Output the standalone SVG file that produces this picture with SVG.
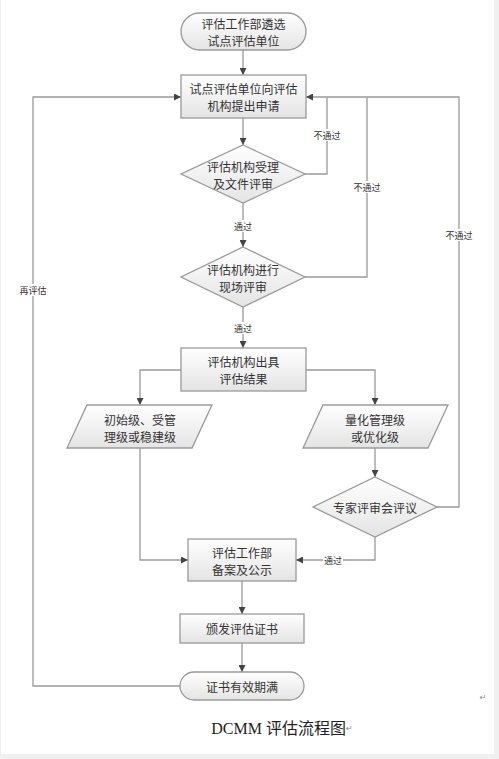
<svg xmlns="http://www.w3.org/2000/svg" width="499" height="759" viewBox="0 0 499 759">
<defs>
<linearGradient id="g" x1="0" y1="0" x2="0" y2="1">
<stop offset="0" stop-color="#ffffff"/>
<stop offset="1" stop-color="#e4e4e4"/>
</linearGradient>
<marker id="a" viewBox="0 0 10 10" refX="10" refY="5" markerWidth="7" markerHeight="7" orient="auto" markerUnits="userSpaceOnUse">
<path d="M0,0 L10,5 L0,10 z" fill="#444"/>
</marker>
<style>
.n{fill:url(#g);stroke:#9a9a9a;stroke-width:1.3}
.t{font-family:"Noto Sans CJK SC","Noto Sans",sans-serif;font-size:12px;fill:#333;text-anchor:middle;dominant-baseline:central}
.c{fill:none;stroke:#9a9a9a;stroke-width:1.3}
.ca{fill:none;stroke:#9a9a9a;stroke-width:1.3;marker-end:url(#a)}
.l{font-family:"Noto Sans CJK SC","Noto Sans",sans-serif;font-size:9px;fill:#333;text-anchor:middle;dominant-baseline:central}
.lb{fill:#fff}
</style>
</defs>
<rect x="0" y="0" width="499" height="759" fill="#f0f0f0"/>
<rect x="1" y="0" width="493" height="754" fill="#ffffff"/>

<g id="connectors">
<path class="ca" d="M243,50 V75"/>
<path class="ca" d="M243,118 V145"/>
<path class="c" d="M305,174 H327 V97"/>
<path class="ca" d="M243,203 V247"/>
<path class="c" d="M305,277 H367 V97"/>
<path class="ca" d="M243,307 V348"/>
<path class="ca" d="M181,370 H140 V405"/>
<path class="ca" d="M306,370 H375 V405"/>
<path class="ca" d="M375,448 V477"/>
<path class="ca" d="M437,507 H459 V97 H306"/>
<path class="ca" d="M375,537 V560 H296"/>
<path class="ca" d="M140,448 V560 H188"/>
<path class="ca" d="M242,581 V614"/>
<path class="ca" d="M242,643 V672"/>
<path class="ca" d="M180,686 H33 V97 H181"/>
<rect class="lb" x="314" y="129" width="26" height="12"/>
<text class="l" x="327" y="135">不通过</text>
<rect class="lb" x="354" y="181" width="26" height="12"/>
<text class="l" x="367" y="187">不通过</text>
<rect class="lb" x="446" y="229" width="26" height="12"/>
<text class="l" x="459" y="235">不通过</text>
<rect class="lb" x="233" y="220" width="20" height="12"/>
<text class="l" x="243" y="226">通过</text>
<rect class="lb" x="233" y="322" width="20" height="12"/>
<text class="l" x="243" y="328">通过</text>
<rect class="lb" x="323" y="554" width="20" height="12"/>
<text class="l" x="333" y="560">通过</text>
<rect class="lb" x="20" y="284" width="26" height="12"/>
<text class="l" x="33" y="290">再评估</text>
</g>

<g id="start">
<rect class="n" x="181" y="13" width="125" height="37" rx="18.5"/>
<text class="t" x="243.5" y="23">评估工作部遴选</text>
<text class="t" x="243.5" y="40">试点评估单位</text>
</g>
<g id="apply">
<rect class="n" x="181" y="75" width="125" height="43"/>
<text class="t" x="243.5" y="88">试点评估单位向评估</text>
<text class="t" x="243.5" y="105">机构提出申请</text>
</g>
<g id="review1">
<polygon class="n" points="243,145 305,174 243,203 181,174"/>
<text class="t" x="243" y="166">评估机构受理</text>
<text class="t" x="243" y="183">及文件评审</text>
</g>
<g id="review2">
<polygon class="n" points="243,247 305,277 243,307 181,277"/>
<text class="t" x="243" y="269">评估机构进行</text>
<text class="t" x="243" y="286">现场评审</text>
</g>
<g id="result">
<rect class="n" x="181" y="348" width="125" height="43"/>
<text class="t" x="243.5" y="361">评估机构出具</text>
<text class="t" x="243.5" y="378">评估结果</text>
</g>
<g id="low">
<polygon class="n" points="87,405 212,405 192,448 67,448"/>
<text class="t" x="140" y="419">初始级、受管</text>
<text class="t" x="140" y="436">理级或稳建级</text>
</g>
<g id="high">
<polygon class="n" points="323,405 448,405 428,448 303,448"/>
<text class="t" x="375" y="419">量化管理级</text>
<text class="t" x="375" y="436">或优化级</text>
</g>
<g id="expert">
<polygon class="n" points="375,477 437,507 375,537 313,507"/>
<text class="t" x="375" y="507">专家评审会评议</text>
</g>
<g id="record">
<rect class="n" x="188" y="539" width="108" height="42"/>
<text class="t" x="242" y="552">评估工作部</text>
<text class="t" x="242" y="569">备案及公示</text>
</g>
<g id="cert">
<rect class="n" x="180" y="614" width="124" height="29"/>
<text class="t" x="242" y="628.5">颁发评估证书</text>
</g>
<g id="end">
<rect class="n" x="180" y="672" width="124" height="28" rx="14"/>
<text class="t" x="242" y="686">证书有效期满</text>
</g>

<text x="483" y="697" font-family="DejaVu Sans,sans-serif" font-size="8" fill="#888" text-anchor="middle" dominant-baseline="central">↵</text>
<text x="282" y="728" font-family="Liberation Serif,Noto Sans CJK SC,serif" font-size="16" fill="#222" text-anchor="middle" dominant-baseline="central">DCMM 评估流程图<tspan font-size="8" fill="#888" font-family="DejaVu Sans,sans-serif">↵</tspan></text>
</svg>
